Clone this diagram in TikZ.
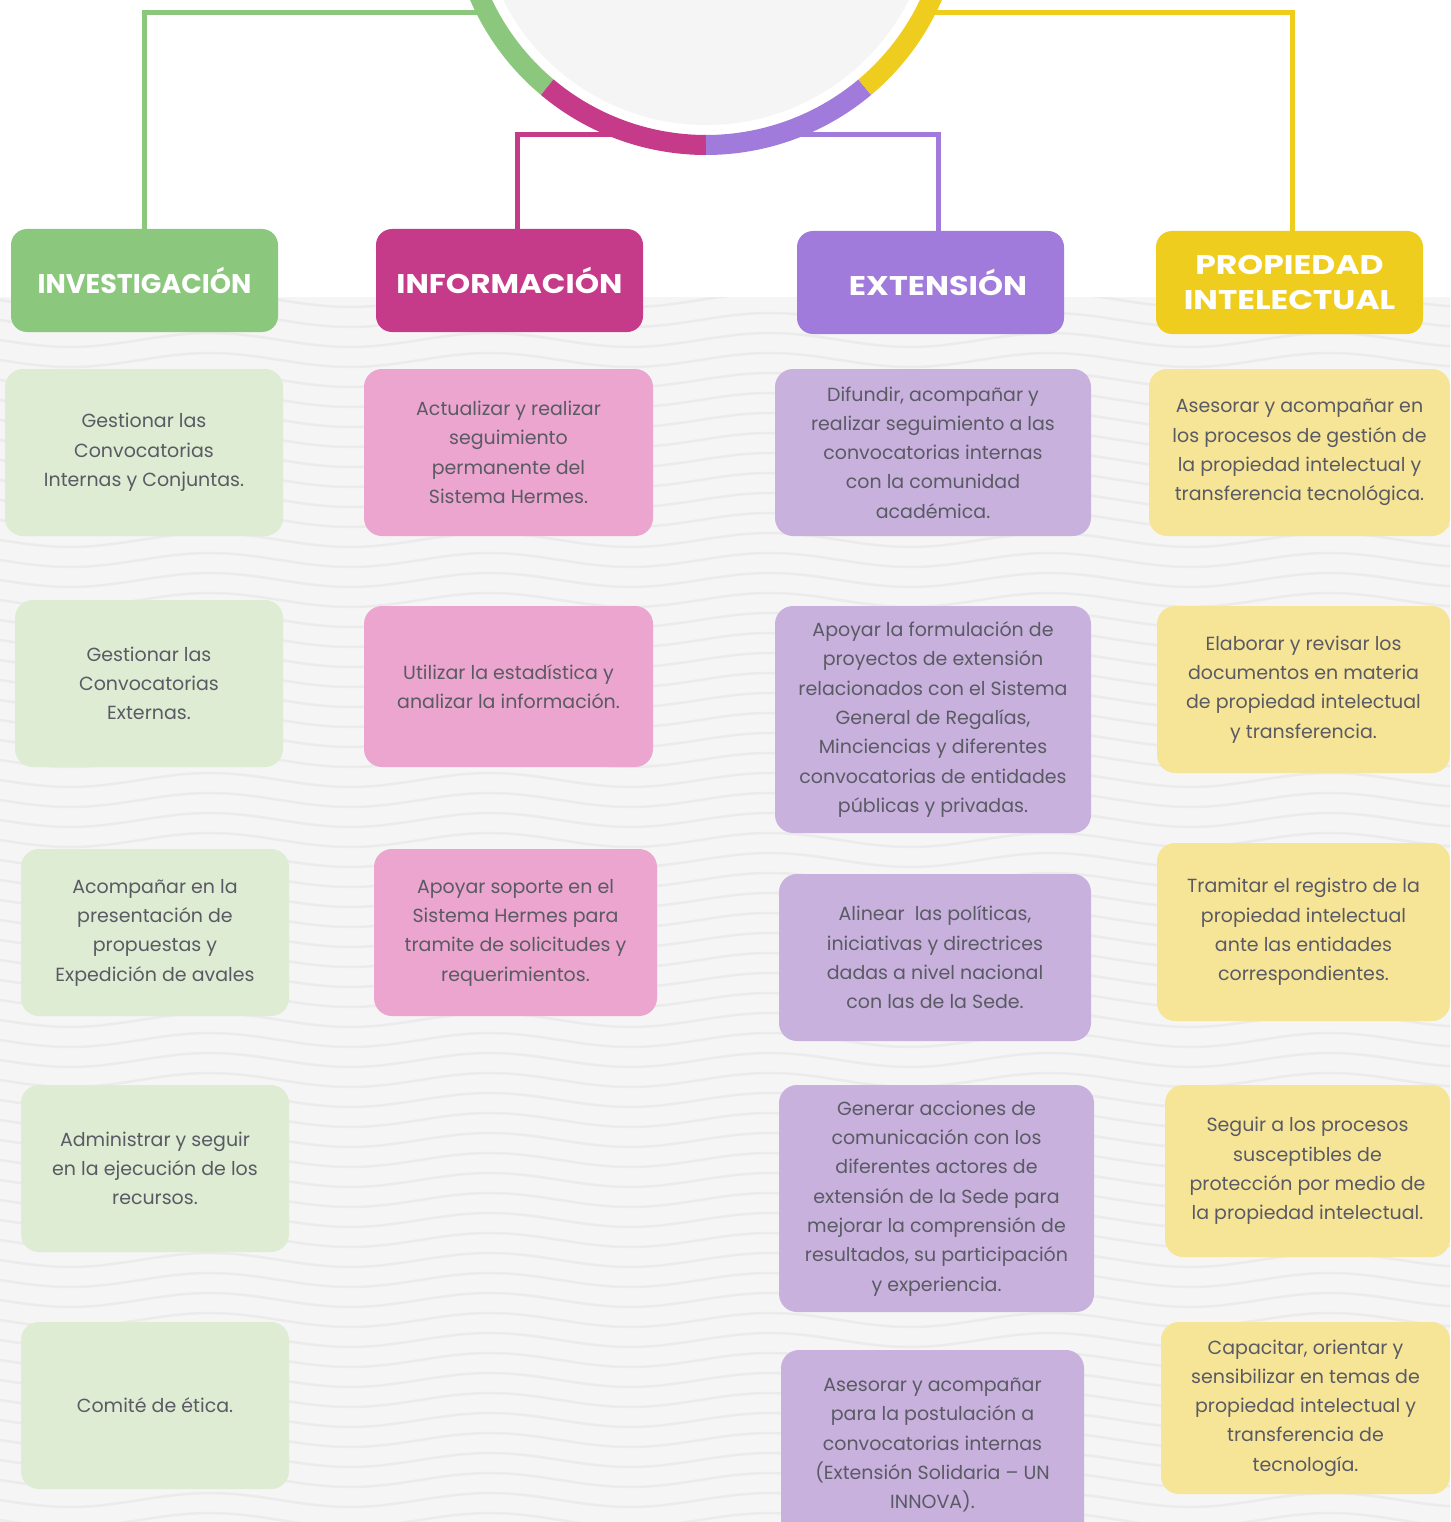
\documentclass[tikz,border=0pt]{standalone}
\usepackage{fontspec}
\setmainfont{Poppins}
\definecolor{cgreen}{HTML}{8BC77D}
\definecolor{cmag}{HTML}{C63A8A}
\definecolor{cpur}{HTML}{A07BDB}
\definecolor{cyel}{HTML}{EFCD1F}
\definecolor{lgreen}{HTML}{DDECD2}
\definecolor{lpink}{HTML}{EBA5CF}
\definecolor{lpur}{HTML}{C8B1DD}
\definecolor{lyel}{HTML}{F6E597}
\definecolor{bggrey}{HTML}{F5F5F5}
\definecolor{wavegrey}{HTML}{EBEBEB}
\definecolor{txt}{HTML}{5A5A64}
\newcommand\cbox[7]{%
  \pgfmathsetmacro\bw{#4-#2}\pgfmathsetmacro\bh{#5-#3}%
  \pgfmathsetmacro\bx{(#2+#4)/2}\pgfmathsetmacro\by{(#3+#5)/2}%
  \node[#6, minimum width=\bw pt, minimum height=\bh pt] (#1) at (\bx,\by) {#7};}
\newcommand\hx[2]{\scalebox{#1}[1]{#2}}
\begin{document}
\begin{tikzpicture}[x=1pt,y=-1pt,
  head/.style={fill=#1, rounded corners=16pt, inner sep=0pt, text=white,
    align=center, font={\bfseries\fontsize{27}{35}\selectfont}},
  item/.style={fill=#1, rounded corners=18pt, inner sep=0pt, text=txt,
    align=center, font={\fontsize{19}{29.3}\selectfont}},
  conn/.style={draw=#1, line width=5pt},
  ringarc/.style={draw=#1, line width=20pt},
  wave/.style={draw=wavegrey, line width=2.5pt}]
\path[use as bounding box, clip] (0,0) rectangle (1450,1522);
\fill[white] (0,0) rectangle (1450,1522);
\fill[bggrey] (0,297) rectangle (1450,1522);
\begin{scope}
  \clip (0,297) rectangle (1450,1522);
  \foreach \yy in {300,320,...,1540}{
    \draw[wave] plot[domain=-20:1470, samples=60, smooth] (\x,{\yy+7*sin(\x/280*360)});
  }
\end{scope}
% central circle
\coordinate (ctr) at (706,-102);
\fill[bggrey] (ctr) circle[radius=227];
% connector end points on the ring
\coordinate (gEnd) at (487,13);
\coordinate (yEnd) at (925,13);
\coordinate (mEnd) at (640,135);
\coordinate (pEnd) at (772,135);
% header nodes
\cbox{inv}{11}{229}{278}{332}{head=cgreen}{INVESTIGACIÓN}
\cbox{inf}{376}{229}{643}{332}{head=cmag}{\hx{1.15}{INFORMACIÓN}}
\cbox{ext}{797}{231}{1064}{334}{head=cpur}{\hspace*{15pt}\hx{1.18}{EXTENSIÓN}}
\cbox{pro}{1156}{231}{1423}{334}{head=cyel}{\hx{1.22}{PROPIEDAD}\\\hx{1.21}{INTELECTUAL}}
% connectors
\draw[conn=cgreen] (inv.north) |- (gEnd);
\draw[conn=cmag] ([xshift=7.5pt]inf.north) |- (mEnd);
\draw[conn=cpur] ([xshift=7.5pt]ext.north) |- (pEnd);
\draw[conn=cyel] ([xshift=2.5pt]pro.north) |- (yEnd);
% ring
\draw[ringarc=cgreen] ([shift={(130:247)}]ctr) arc[start angle=130, end angle=200, radius=247];
\draw[ringarc=cmag] ([shift={(90:247)}]ctr) arc[start angle=90, end angle=130, radius=247];
\draw[ringarc=cpur] ([shift={(50:247)}]ctr) arc[start angle=50, end angle=90, radius=247];
\draw[ringarc=cyel] ([shift={(-20:247)}]ctr) arc[start angle=-20, end angle=50, radius=247];
% column 1
\cbox{inv1}{5}{369}{283}{536}{item=lgreen}{Gestionar las\\Convocatorias\\Internas y Conjuntas.}
\cbox{inv2}{15}{600}{283}{767}{item=lgreen}{Gestionar las\\Convocatorias\\Externas.}
\cbox{inv3}{21}{849}{289}{1016}{item=lgreen}{Acompañar en la\\presentación de\\propuestas y\\Expedición de avales}
\cbox{inv4}{21}{1085}{289}{1252}{item=lgreen}{Administrar y seguir\\en la ejecución de los\\recursos.}
\cbox{inv5}{21}{1322}{289}{1489}{item=lgreen}{Comité de ética.}
% column 2
\cbox{inf1}{364}{369}{653}{536}{item=lpink}{Actualizar y realizar\\seguimiento\\permanente del\\Sistema Hermes.}
\cbox{inf2}{364}{606}{653}{767}{item=lpink}{Utilizar la estadística y\\analizar la información.}
\cbox{inf3}{374}{849}{657}{1016}{item=lpink}{Apoyar soporte en el\\Sistema Hermes para\\tramite de solicitudes y\\requerimientos.}
% column 3
\cbox{ext1}{775}{369}{1091}{536}{item=lpur}{Difundir, acompañar y\\realizar seguimiento a las\\convocatorias internas\\con la comunidad\\académica.}
\cbox{ext2}{775}{606}{1091}{833}{item=lpur}{Apoyar la formulación de\\proyectos de extensión\\relacionados con el Sistema\\General de Regalías,\\Minciencias y diferentes\\convocatorias de entidades\\públicas y privadas.}
\cbox{ext3}{779}{874}{1091}{1041}{item=lpur}{Alinear\ \ las políticas,\\iniciativas y directrices\\dadas a nivel nacional\\con las de la Sede.}
\cbox{ext4}{779}{1085}{1094}{1312}{item=lpur}{Generar acciones de\\comunicación con los\\diferentes actores de\\extensión de la Sede para\\mejorar la comprensión de\\resultados, su participación\\y experiencia.}
\cbox{ext5}{781}{1350}{1084}{1540}{item=lpur}{Asesorar y acompañar\\para la postulación a\\convocatorias internas\\(Extensión Solidaria – UN\\INNOVA).}
% column 4
\cbox{pro1}{1149}{369}{1450}{536}{item=lyel}{Asesorar y acompañar en\\los procesos de gestión de\\la propiedad intelectual y\\transferencia tecnológica.}
\cbox{pro2}{1157}{606}{1450}{773}{item=lyel}{Elaborar y revisar los\\documentos en materia\\de propiedad intelectual\\y transferencia.}
\cbox{pro3}{1157}{843}{1450}{1021}{item=lyel}{Tramitar el registro de la\\propiedad intelectual\\ante las entidades\\correspondientes.}
\cbox{pro4}{1165}{1085}{1450}{1257}{item=lyel}{Seguir a los procesos\\susceptibles de\\protección por medio de\\la propiedad intelectual.}
\cbox{pro5}{1161}{1322}{1450}{1494}{item=lyel}{Capacitar, orientar y\\sensibilizar en temas de\\propiedad intelectual y\\transferencia de\\tecnología.}
\end{tikzpicture}
\end{document}
